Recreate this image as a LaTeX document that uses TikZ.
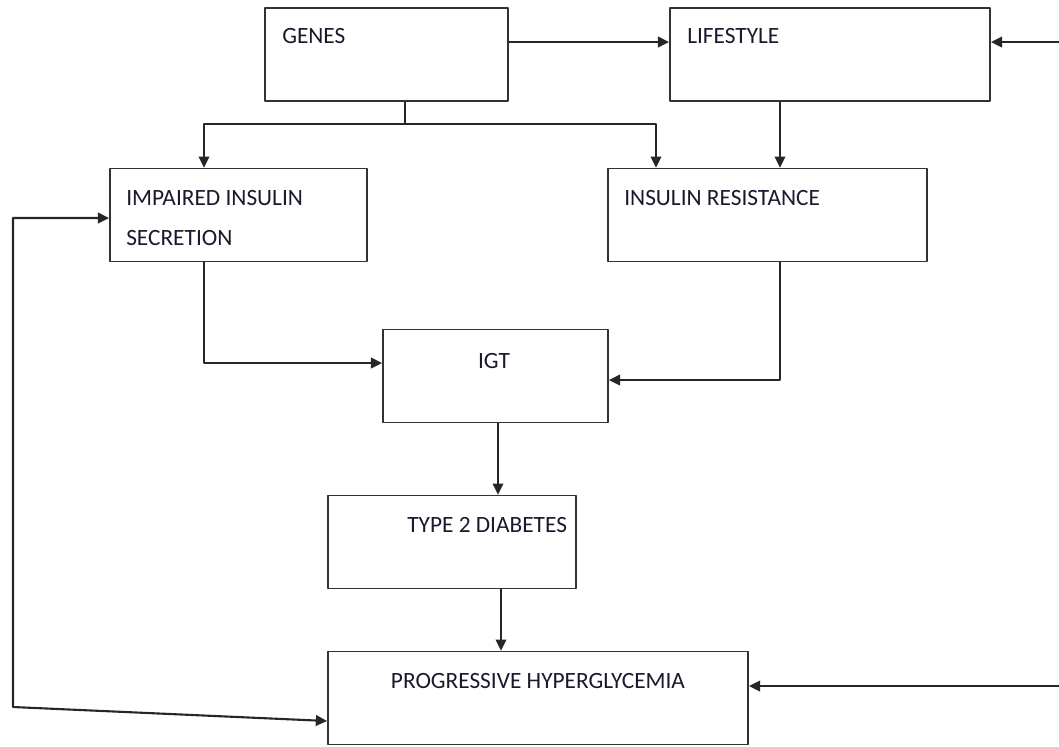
\documentclass[tikz,border=0pt]{standalone}
\usepackage{fontspec}
\setmainfont{Carlito}
\usetikzlibrary{arrows.meta}
\definecolor{boxline}{RGB}{50,50,50}
\definecolor{txtcol}{RGB}{25,25,45}
\begin{document}
\begin{tikzpicture}[x=0.025cm, y=-0.025cm, font=\fontsize{16.6pt}{19pt}\selectfont, line join=round,
        >={Triangle[length=8pt,width=7.5pt]},
        box/.style={draw=boxline, line width=1.2pt, minimum height=2.32cm, inner sep=0pt},
        lbl/.style={anchor=base west, inner sep=0pt, text=txtcol},
        conn/.style={line width=1.5pt, black!85}]
    \useasboundingbox (0,0) rectangle (1059,746);
    % boxes
    \node[box, minimum width=6.075cm] (genes) at (386.5,54.5) {};
    \node[box, minimum width=8cm] (lifestyle) at (830,54.5) {};
    \node[box, minimum width=6.425cm] (secretion) at (238.5,215) {};
    \node[box, minimum width=7.975cm] (resistance) at (767.5,215) {};
    \node[box, minimum width=5.625cm] (igt) at (495.5,376) {};
    \node[box, minimum width=6.2cm] (diabetes) at (452,542) {};
    \node[box, minimum width=10.5cm] (hyper) at (538,698) {};
    % texts
    \node[lbl] (genes-t) at (282,43.5) {GENES};
    \node[lbl] (lifestyle-t) at (687,43.5) {LIFESTYLE};
    \node[lbl] (secretion-t1) at (126,205) {IMPAIRED INSULIN};
    \node[lbl] (secretion-t2) at (126,245) {SECRETION};
    \node[lbl] (resistance-t) at (624,205) {INSULIN RESISTANCE};
    \node[lbl, anchor=base] (igt-t) at (494,368) {IGT};
    \node[lbl] (diabetes-t) at (407,532) {TYPE 2 DIABETES};
    \node[lbl, anchor=base] (hyper-t) at (538,688) {PROGRESSIVE HYPERGLYCEMIA};
    % helper points
    \coordinate (rtop) at (1059,42);
    \coordinate (rbot) at (1059,686);
    \coordinate (fork) at (405,124);
    \coordinate (fbl) at (13,707);
    \coordinate (xa) at (204,0);
    \coordinate (xb) at (656,0);
    \coordinate (xc) at (780,0);
    \coordinate (xd) at (498,0);
    \coordinate (xe) at (501,0);
    \coordinate (ya) at (0,363);
    \coordinate (yb) at (0,380);
    \coordinate (yc) at (0,721);
    \coordinate (yd) at (0,218);
    % connectors
    \draw[conn, ->] (genes.east |- rtop) -- (lifestyle.west |- rtop);
    \draw[conn, ->] (rtop) -- (lifestyle.east |- rtop);
    \draw[conn] (genes.south -| fork) -- (fork);
    \draw[conn, ->] (fork) -| (secretion.north -| xa);
    \draw[conn, ->] (fork) -| (resistance.north -| xb);
    \draw[conn, ->] (lifestyle.south -| xc) -- (resistance.north -| xc);
    \draw[conn, ->] (secretion.south -| xa) |- (igt.west |- ya);
    \draw[conn, ->] (resistance.south -| xc) |- (igt.east |- yb);
    \draw[conn, ->] (igt.south -| xd) -- (diabetes.north -| xd);
    \draw[conn, ->] (diabetes.south -| xe) -- (hyper.north -| xe);
    \draw[conn, ->] (rbot) -- (hyper.east |- rbot);
    \draw[conn, <->] (hyper.west |- yc) -- (fbl) |- (secretion.west |- yd);
\end{tikzpicture}
\end{document}
